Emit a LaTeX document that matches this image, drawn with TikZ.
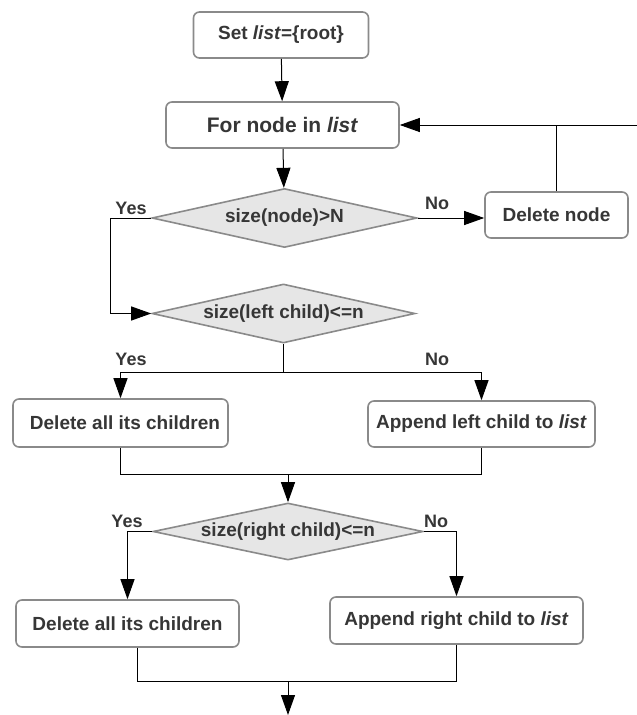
\documentclass[tikz,border=0pt]{standalone}
\usepackage{fontspec}
\setmainfont{Liberation Sans}
\usetikzlibrary{shapes.geometric,arrows.meta}
\definecolor{boxgray}{HTML}{8A8A8A}
\definecolor{diafill}{HTML}{E6E6E6}
\definecolor{txtgray}{HTML}{363636}
\begin{document}
\begin{tikzpicture}[x=1pt,y=-1pt,
  box/.style={draw=boxgray, line width=1.6pt, rounded corners=6pt, fill=white, inner sep=0pt,
    font=\fontsize{19}{22}\selectfont\bfseries, text=txtgray},
  dec/.style={diamond, draw=boxgray, line width=1.6pt, fill=diafill, inner sep=0pt,
    font=\fontsize{19}{22}\selectfont\bfseries, text=txtgray},
  lbl/.style={font=\fontsize{18}{21}\selectfont\bfseries, text=txtgray, inner sep=0pt},
  arr/.style={-{Triangle[length=20pt,width=14pt]}, line width=1pt},
  conn/.style={line width=1pt}
]
\useasboundingbox (0,0) rectangle (637,715);

% nodes
\node[box, minimum width=175pt, minimum height=46pt] (setl) at (281,35) {Set \textit{list}=\{root\}};
\node[box, minimum width=233pt, minimum height=46pt, font=\fontsize{21}{24}\selectfont\bfseries] (fornode) at (282.5,125) {For node in \textit{list}};
\node[dec, minimum width=265pt, minimum height=59pt] (d1) at (284.5,218) {\makebox[0pt]{size(node)>N}};
\node[box, minimum width=143pt, minimum height=46pt] (delnode) at (556.5,215) {Delete node};
\node[dec, minimum width=263pt, minimum height=59pt] (d2) at (283.5,313.5) {\makebox[0pt]{size(left child)<=n}};
\node[box, minimum width=215pt, minimum height=48pt] (dc1) at (120.5,423) {\hspace{9pt}Delete all its children};
\node[box, minimum width=227pt, minimum height=46pt] (al) at (481.5,424) {Append left child to \textit{list}};
\node[dec, minimum width=270pt, minimum height=57pt] (d3) at (288,531.5) {\makebox[0pt]{size(right child)<=n}};
\node[box, minimum width=223pt, minimum height=47pt] (dc2) at (127.5,623.5) {Delete all its children};
\node[box, minimum width=253pt, minimum height=47pt] (ar) at (456.5,620.5) {Append right child to \textit{list}};

% labels
\node[lbl] (y1) at (131,208) {Yes};
\node[lbl] (n1) at (437,203) {No};
\node[lbl] (y2) at (131,359) {Yes};
\node[lbl] (n2) at (437,359) {No};
\node[lbl] (y3) at (127,521) {Yes};
\node[lbl] (n3) at (436,521) {No};

% helper coordinates
\coordinate (edge) at (637,125);
\coordinate (join) at (delnode.north |- edge);
\coordinate (s2) at (283.5,372);
\coordinate (m1) at (288,474);
\coordinate (m2) at (288,681);
\coordinate (endpt) at (288,715);

% connectors
\draw[arr] (setl) -- (fornode);
\draw[arr] (fornode) -- (d1);
\draw[arr] (d1.east) -- (d1.east -| delnode.west);
\draw[conn] (delnode.north) -- (join);
\draw[arr] (edge) -- (fornode.east);
\draw[arr] (d1.west) -- ++(-41,0) |- (d2.west);
\draw[conn] (d2.south) -- (s2);
\draw[arr] (s2) -| (dc1.north);
\draw[arr] (s2) -| (al.north);
\draw[conn] (dc1.south) |- (m1);
\draw[conn] (al.south) |- (m1);
\draw[arr] (m1) -- (d3.north);
\draw[arr] (d3.west) -| (dc2.north);
\draw[arr] (d3.east) -| (ar.north);
\draw[conn] ([xshift=10pt]dc2.south) |- (m2);
\draw[conn] (ar.south) |- (m2);
\draw[arr] (m2) -- (endpt);
\end{tikzpicture}
\end{document}
